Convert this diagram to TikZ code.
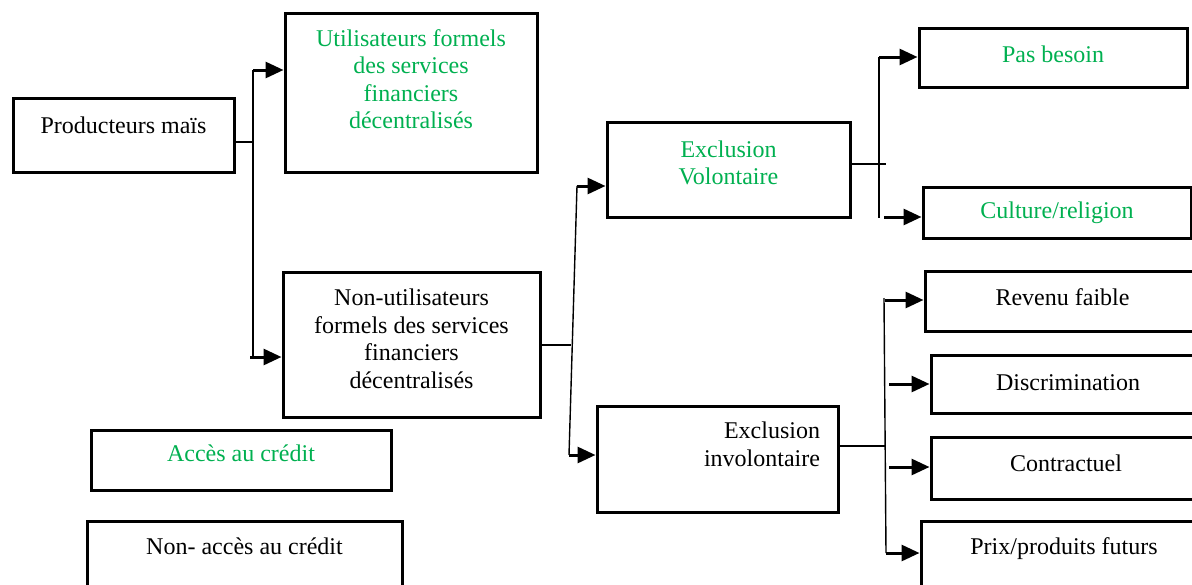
\documentclass[tikz,border=0pt]{standalone}
\usepackage{fontspec}
\setmainfont{Liberation Serif}
\usetikzlibrary{arrows.meta, positioning}
\definecolor{vert}{RGB}{0,176,80}

\begin{document}
\begin{tikzpicture}[
        x=1pt, y=-1pt,
        every node/.style={font=\fontsize{24}{27.6}\selectfont},
        box/.style={draw, line width=3pt, align=center, inner sep=0pt},
        green_text/.style={text=vert},
        link/.style={line width=1.4pt},
        op_arrow/.style={-{Triangle[length=18pt, width=16pt]}, line width=3pt}
    ]
    \useasboundingbox (0,0) rectangle (1192,584);

    % --- Producteurs ---
    \node[box, minimum width=221pt, minimum height=74pt, text depth=19pt] (prod) at (123.5,135) {Producteurs maïs};
    \node[box, green_text, minimum width=252pt, minimum height=159pt, text depth=27pt] (util) at (411,92.5) {Utilisateurs formels\\des services\\financiers\\décentralisés};
    \node[box, minimum width=257pt, minimum height=145pt, text depth=12pt] (nonutil) at (411.5,344.5) {Non-utilisateurs\\formels des services\\financiers\\décentralisés};

    % --- Legend ---
    \node[box, green_text, minimum width=300pt, minimum height=60pt, text depth=13pt] (acces) at (241,460) {Accès au crédit};
    \node[box, minimum width=315pt, minimum height=70pt, text depth=20pt] (nonacces) at (244.5,556) {Non- accès au crédit};

    % --- Exclusion ---
    \node[box, green_text, minimum width=243pt, minimum height=95pt, text depth=14pt] (vol) at (728.5,169.5) {Exclusion\\Volontaire};
    \node[box, align=right, text width=205pt, minimum width=241pt, minimum height=106pt, text depth=57pt] (invol) at (717.5,459) {Exclusion\\involontaire};

    % --- Causes ---
    \node[box, green_text, minimum width=268pt, minimum height=59pt, text depth=6pt] (besoin) at (1053,57.5) {Pas besoin};
    \node[box, green_text, minimum width=268pt, minimum height=51pt] (culture) at (1057,212.5) {Culture/religion};
    \node[box, minimum width=275pt, minimum height=60pt, text depth=7pt] (revenu) at (1062.5,301) {Revenu faible};
    \node[box, minimum width=274pt, minimum height=58pt, text depth=3pt] (discrim) at (1068,384) {Discrimination};
    \node[box, minimum width=270pt, minimum height=62pt, text depth=9pt] (contrat) at (1066,468) {Contractuel};
    \node[box, minimum width=286pt, minimum height=70pt, text depth=20pt] (prix) at (1064,556) {Prix/produits futurs};

    % 1. Producteurs -> utilisateurs / non-utilisateurs
    \coordinate (j_prod) at (253,142);
    \coordinate (j_prod_top) at (253,70);
    \coordinate (j_prod_bot) at (250,357);
    \draw[link] (prod.east |- j_prod) -- (j_prod);
    \draw[link] (j_prod_top) -- (j_prod_top |- j_prod_bot);
    \draw[op_arrow] (j_prod_top) -- (util.west |- j_prod_top);
    \draw[op_arrow] (j_prod_bot) -- (nonutil.west |- j_prod_bot);

    % 2. Non-utilisateurs -> exclusion
    \coordinate (j_nu) at (571,345);
    \coordinate (j_nu_top) at (577,186);
    \coordinate (j_nu_bot) at (569,455);
    \draw[link] (nonutil.east |- j_nu) -- (j_nu);
    \draw[link] (j_nu_top) -- (j_nu_bot);
    \draw[op_arrow] (j_nu_top) -- (vol.west |- j_nu_top);
    \draw[op_arrow] (j_nu_bot) -- (invol.west |- j_nu_bot);

    % 3. Exclusion volontaire -> causes
    \coordinate (j_vol) at (886,164);
    \coordinate (j_vol_top) at (879,57);
    \coordinate (j_vol_bot) at (879,218);
    \coordinate (a_cult) at (884,217);
    \draw[link] (vol.east |- j_vol) -- (j_vol);
    \draw[link] (j_vol_top) -- (j_vol_bot);
    \draw[op_arrow] (j_vol_top) -- (besoin.west |- j_vol_top);
    \draw[op_arrow] (a_cult) -- (culture.west |- a_cult);

    % 4. Exclusion involontaire -> causes
    \coordinate (j_inv) at (885,446);
    \coordinate (j_inv_top) at (884,298);
    \coordinate (j_inv_bot) at (886,553);
    \coordinate (a_rev) at (885,300);
    \coordinate (a_dis) at (889,384);
    \coordinate (a_con) at (889,467);
    \draw[link] (invol.east |- j_inv) -- (j_inv);
    \draw[link] (j_inv_top) -- (j_inv_bot);
    \draw[op_arrow] (a_rev) -- (revenu.west |- a_rev);
    \draw[op_arrow] (a_dis) -- (discrim.west |- a_dis);
    \draw[op_arrow] (a_con) -- (contrat.west |- a_con);
    \draw[op_arrow] (j_inv_bot) -- (prix.west |- j_inv_bot);

\end{tikzpicture}
\end{document}
